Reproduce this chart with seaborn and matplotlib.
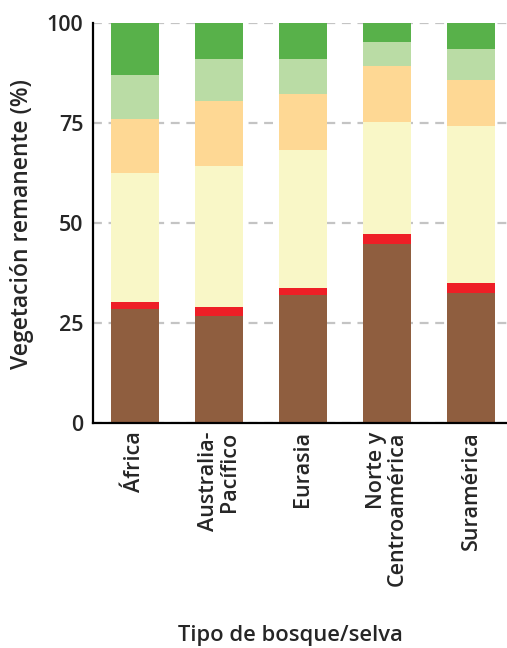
import matplotlib
matplotlib.use('Agg')
import matplotlib.pyplot as plt
import seaborn as sns
import numpy as np
import pandas as pd

# data (percent of remaining vegetation)
regiones = ['África', 'Australia-\nPacífico', 'Eurasia', 'Norte y\nCentroamérica', 'Suramérica']
cafe = [28.4, 26.8, 31.9, 44.7, 32.4]
rojo = [1.8, 2.1, 1.8, 2.5, 2.5]
amarillo = [32.3, 35.3, 34.5, 28.0, 39.3]
naranja = [13.5, 16.2, 14.1, 14.1, 11.6]
verde_claro = [11.0, 10.5, 8.6, 5.9, 7.6]
verde = [13.0, 9.1, 9.1, 4.8, 6.6]

capas = [cafe, rojo, amarillo, naranja, verde_claro, verde]
colores = ['#8F5E3F', '#EE1F26', '#F9F7C7', '#FED894', '#BADCA5', '#58B14A']

sns.set_style('white')
plt.rcParams['font.family'] = ['Open Sans', 'DejaVu Sans']

fig = plt.figure(figsize=(5.07, 6.48), dpi=100)
ax = fig.add_axes([93/507, 225/648, 420/507, 400.3/648])

base = np.zeros(len(regiones))
for vals, col in zip(capas, colores):
    df = pd.DataFrame({'region': regiones, 'valor': vals})
    sns.barplot(data=df, x='region', y='valor', bottom=base, color=col,
                width=0.57, linewidth=0, saturation=1, ax=ax, zorder=3)
    base = base + np.array(vals)

ax.set_xlim(-0.5, 4.5)
ax.set_ylim(0, 100)
ax.set_yticks([0, 25, 50, 75, 100])
ax.yaxis.grid(True, linestyle=(0, (4, 3)), color='#c4c4c4', linewidth=1.6, zorder=0)
ax.set_axisbelow(True)

# major ticks at category edges, labels on minor ticks at centres
ax.set_xticks(np.arange(-0.5, 5.0, 1.0))
ax.set_xticklabels([])
ax.set_xticks(np.arange(len(regiones)), minor=True)
ax.set_xticklabels(regiones, minor=True, rotation=90, fontsize=15.5,
                   fontweight='semibold', va='top', ha='center', multialignment='right',
                   linespacing=1.0)
ax.tick_params(axis='x', which='major', length=5, width=1.5, direction='out', color='black')
ax.tick_params(axis='x', which='minor', length=0, pad=6)
ax.tick_params(axis='y', length=6, width=1.5, pad=1, labelsize=15.5, color='black')
for t in ax.get_yticklabels():
    t.set_fontweight('semibold')

ax.set_xlabel('')
ax.set_ylabel('')
for s in ['top', 'right']:
    ax.spines[s].set_visible(False)
for s in ['left', 'bottom']:
    ax.spines[s].set_linewidth(1.6)
    ax.spines[s].set_color('black')
    ax.spines[s].set_zorder(5)

fig.text(22/507, 1 - 224/648, 'Vegetación remanente (%)', rotation=90, fontsize=16.5,
         fontweight='semibold', ha='center', va='center')
fig.text(290/507, 1 - 636/648, 'Tipo de bosque/selva', fontsize=15.8,
         fontweight='semibold', ha='center', va='center')

fig.savefig('out.png', dpi=100)
